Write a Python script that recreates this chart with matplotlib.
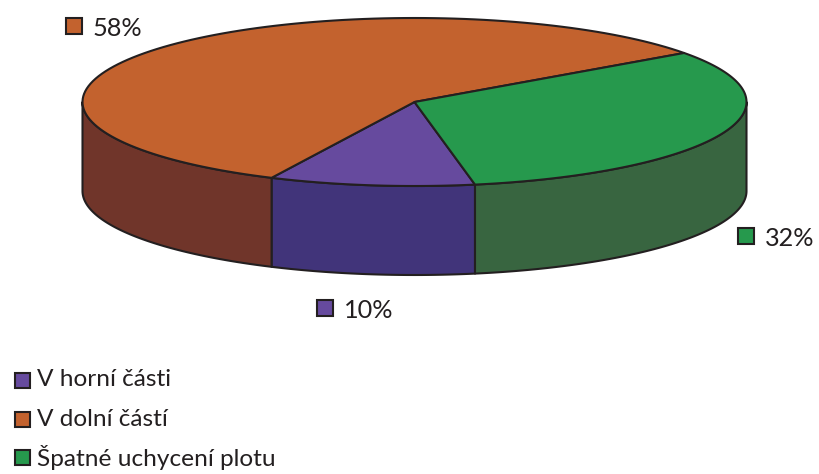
#coding:utf8

import numpy as np
import matplotlib.pyplot as plt

plt.rcParams['font.family'] = ['Lato', 'DejaVu Sans']

# Podíly poruch plotu
kategorie = ["V horní části", "V dolní částí", "Špatné uchycení plotu"]
hodnoty = [10, 58, 32]
barvy = ["#664A9E", "#C3622E", "#26994D"]
barvy_boku = ["#41347A", "#70352A", "#386540"]
popisky = ["10%", "58%", "32%"]

# Geometrie koláče v pixelech
cx, cy = 414.5, 102
rx, ry = 332, 84
hloubka = 89
start = 79.5
barva_cary = "#231F20"

fig = plt.figure(figsize=(8.2, 4.74), dpi=100)
ax = fig.add_axes([0, 0, 1, 1])
ax.set_xlim(0, 820)
ax.set_ylim(474, 0)
ax.axis("off")


def oblouk(t1, t2):
    t = np.radians(np.linspace(t1, t2, 120))
    return cx + rx * np.cos(t), cy + ry * np.sin(t)


hrany = start + np.cumsum([0] + hodnoty) * 3.6

# Boční stěny: jen přední část obvodu (0 až 180 stupňů)
for i in range(3):
    for posun in (0, 360):
        t1 = max(hrany[i] - posun, 0)
        t2 = min(hrany[i + 1] - posun, 180)
        if t2 <= t1:
            continue
        x, y = oblouk(t1, t2)
        ax.fill(np.r_[x, x[::-1]], np.r_[y, y[::-1] + hloubka],
                facecolor=barvy_boku[i], edgecolor=barva_cary, lw=1.5, joinstyle="round")

# Horní plocha
for i in range(3):
    x, y = oblouk(hrany[i], hrany[i + 1])
    ax.fill(np.r_[cx, x], np.r_[cy, y],
            facecolor=barvy[i], edgecolor=barva_cary, lw=1.5, joinstyle="round")


def ctverec(x, y, barva, s):
    ax.add_patch(plt.Rectangle((x, y), s, s, facecolor=barva, edgecolor=barva_cary, lw=1.5))


# Popisky hodnot
pozice_popisku = [(317.5, 299.5), (66.5, 17.5), (738.5, 228)]
for i in range(3):
    x, y = pozice_popisku[i]
    ctverec(x, y, barvy[i], 16)
    ax.text(x + 26.5, y + 10.5, popisky[i], fontsize=18.2, color=barva_cary, va="center", ha="left")

# Legenda
radky = [380, 419.5, 457.5]
for i in range(3):
    ctverec(15, radky[i] - 7.5, barvy[i], 15)
    ax.text(37.5, radky[i], kategorie[i], fontsize=17.6, color=barva_cary, va="center", ha="left")

plt.savefig("out.png", dpi=100)
plt.close()
